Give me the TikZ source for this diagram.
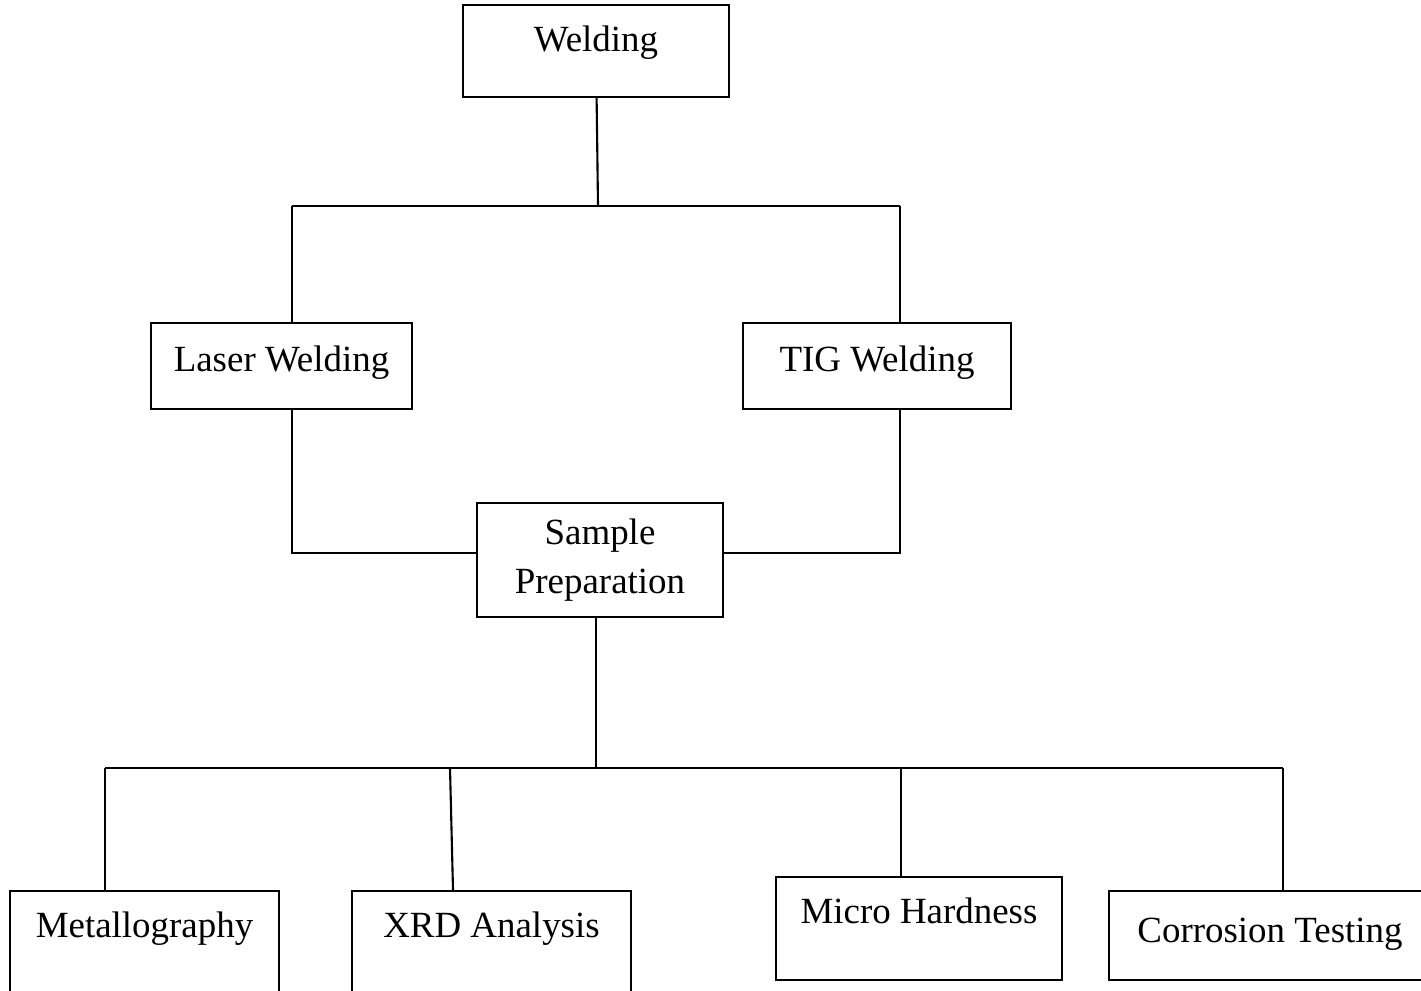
\documentclass[tikz,border=0pt]{standalone}
\usepackage{fontspec}
\setmainfont{Liberation Serif}
\begin{document}
\begin{tikzpicture}[x=0.01cm,y=-0.01cm,line width=0.6pt,
  box/.style={draw,line width=0.6pt,inner xsep=0pt,inner ysep=0pt,font=\fontsize{10.5pt}{14pt}\selectfont}]
\useasboundingbox (0,0) rectangle (1421,991);

\node[box,minimum width=2.66cm,text height=0.47cm,text depth=0.45cm] (weld) at (596,51) {Welding};
\node[box,minimum width=2.61cm,text height=0.48cm,text depth=0.38cm] (laser) at (281.5,366) {Laser Welding};
\node[box,minimum width=2.68cm,text height=0.48cm,text depth=0.38cm] (tig) at (877,366) {TIG Welding};
\node[box,minimum width=2.46cm,minimum height=1.14cm,align=center] (sample) at (600,560) {Sample\\Preparation};

\node[box,minimum width=2.69cm,text height=0.46cm,text depth=0.73cm] (metal) at (144.5,950.5) {Metallography};
\node[box,minimum width=2.79cm,text height=0.46cm,text depth=0.73cm] (xrd) at (491.5,950.5) {XRD Analysis};
\node[box,minimum width=2.86cm,text height=0.46cm,text depth=0.57cm] (micro) at (919,928.5) {Micro Hardness};
\node[box,minimum width=3.22cm,text height=0.51cm,text depth=0.38cm] (corr) at (1270,935.5) {Corrosion Testing};

% welding branches
\coordinate (j1) at (598,206);
\coordinate (l1) at (292,206);
\coordinate (r1) at (900,206);
\draw (weld) -- (j1);
\draw (l1) -- (r1);
\draw (l1) -- (l1 |- laser.north);
\draw (r1) -- (r1 |- tig.north);

% to sample preparation
\draw (l1 |- laser.south) |- ([yshift=0.07cm]sample.west);
\draw (r1 |- tig.south) |- ([yshift=0.07cm]sample.east);

% tests
\coordinate (j2) at (596,768);
\coordinate (b1) at (105,768);
\coordinate (b2) at (450,768);
\coordinate (b3) at (901,768);
\coordinate (b4) at (1283,768);
\draw (sample.south -| j2) -- (j2);
\draw (b1) -- (b4);
\draw (b1) -- (b1 |- metal.north);
\draw (b2) -- ([xshift=0.03cm]b2 |- xrd.north);
\draw (b3) -- (b3 |- micro.north);
\draw (b4) -- (b4 |- corr.north);

\end{tikzpicture}
\end{document}
